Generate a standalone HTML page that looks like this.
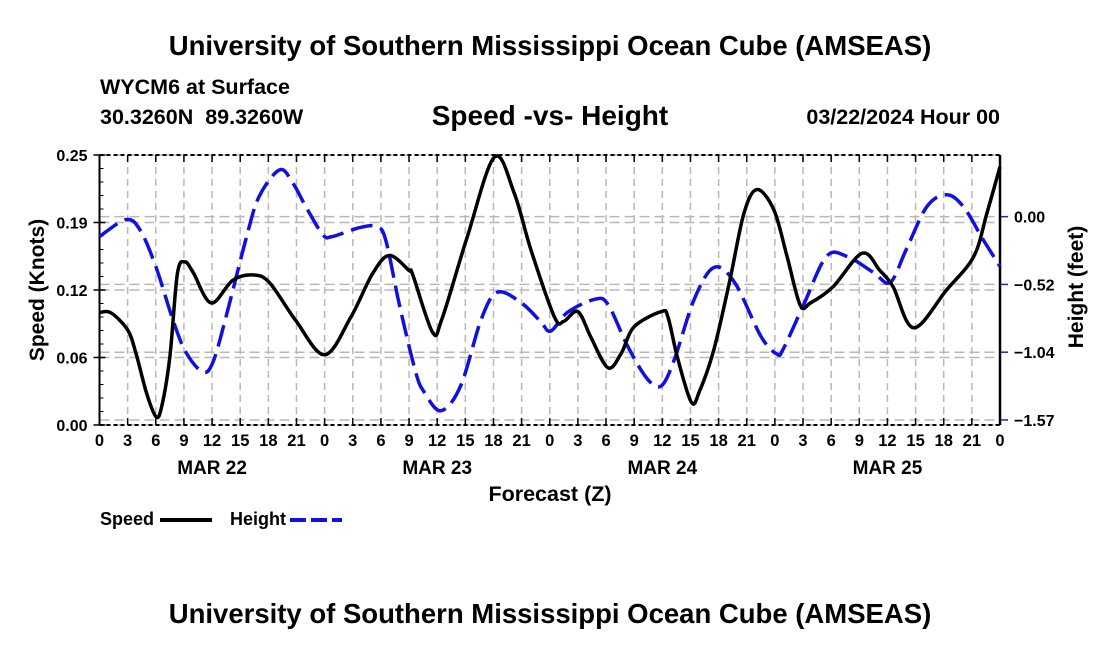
<!DOCTYPE html>
<html><head><meta charset="utf-8"><style>
body{margin:0;background:#fff;}
svg text{font-family:"Liberation Sans",sans-serif;font-weight:bold;fill:#000;}
</style></head><body>
<svg id="chart" width="1100" height="650" viewBox="0 0 1100 650" xmlns="http://www.w3.org/2000/svg">
<rect width="1100" height="650" fill="#fff"/>
<text x="550" y="55" font-size="27.5" text-anchor="middle">University of Southern Mississippi Ocean Cube (AMSEAS)</text>
<text x="100" y="94" font-size="21.5">WYCM6 at Surface</text>
<text x="100" y="124" font-size="21.5" xml:space="preserve">30.3260N  89.3260W</text>
<text x="550" y="125" font-size="28" text-anchor="middle">Speed -vs- Height</text>
<text x="1000" y="124" font-size="21.5" text-anchor="end">03/22/2024 Hour 00</text>
<g id="grid"></g>
<g id="axes"></g>
<g id="series"></g>
<text transform="translate(44,290) rotate(-90)" font-size="21" text-anchor="middle">Speed (Knots)</text>
<text transform="translate(1083,287) rotate(-90)" font-size="21" text-anchor="middle">Height (feet)</text>
<text x="550" y="501" font-size="21.5" text-anchor="middle">Forecast (Z)</text>
<g>
<text x="100" y="525" font-size="18">Speed</text>
<line x1="160" y1="520" x2="212" y2="520" stroke="#000" stroke-width="4"/>
<text x="230" y="525" font-size="18">Height</text>
<line x1="290" y1="520" x2="342" y2="520" stroke="#1010e0" stroke-width="4" stroke-dasharray="16,5"/>
</g>
<text x="550" y="623" font-size="27.5" text-anchor="middle">University of Southern Mississippi Ocean Cube (AMSEAS)</text>
</svg>
<script>
const speedHours=[0,1.2,3,3.9,5,6,6.6,7.5,8.3,9.1,10,11.9,14.2,16.3,18.1,20.9,24,26.8,29.1,30.9,33,33.4,35.5,36.5,39.2,42.1,44.2,46,48.5,49.5,51,52.4,54.2,55.6,57,59.9,60.6,61.6,63.1,64,65.5,67.2,68.7,70.1,71.9,73.3,74.7,75.8,78.2,81.3,83.2,84.6,86.8,90.3,93.2,94.6,96];
const speedValues=[0.104,0.104,0.088,0.066,0.03,0.008,0.016,0.063,0.14,0.151,0.141,0.113,0.134,0.139,0.132,0.097,0.065,0.1,0.14,0.157,0.143,0.139,0.086,0.098,0.174,0.248,0.215,0.162,0.1,0.096,0.105,0.081,0.053,0.066,0.091,0.105,0.1,0.063,0.021,0.032,0.07,0.134,0.196,0.218,0.199,0.156,0.111,0.113,0.128,0.159,0.143,0.128,0.09,0.125,0.156,0.196,0.239];
const heightHours=[0,2.8,4.3,6,7.8,9.2,11,12.1,13.5,15.6,17,19.2,20.6,22,23.8,24.8,27.7,29.5,30.5,32,33.7,34.6,36.4,38.5,40.7,42.4,44.9,47,48.1,49.9,52.8,54.2,56.3,58.4,59.9,61.3,63.4,65.5,67.7,70.5,72.2,72.9,75,77.5,79.7,82.5,84.3,86,88.2,90.3,92.1,94.2,96];
const heightValues=[-0.154,-0.023,-0.1,-0.384,-0.791,-1.045,-1.198,-1.122,-0.77,-0.177,0.153,0.361,0.261,0.077,-0.138,-0.154,-0.085,-0.077,-0.177,-0.69,-1.198,-1.352,-1.498,-1.306,-0.791,-0.584,-0.661,-0.807,-0.883,-0.738,-0.638,-0.676,-0.999,-1.252,-1.306,-1.099,-0.638,-0.392,-0.507,-0.922,-1.06,-1.02,-0.691,-0.307,-0.307,-0.43,-0.507,-0.254,0.077,0.169,0.077,-0.177,-0.384];
const xTickLabels=["0","3","6","9","12","15","18","21","0","3","6","9","12","15","18","21","0","3","6","9","12","15","18","21","0","3","6","9","12","15","18","21","0"];
const dayLabels=["MAR 22","MAR 23","MAR 24","MAR 25"];
const yTicks=[0,0.0625,0.125,0.1875,0.25];
const yTickLabels=["0.00","0.06","0.12","0.19","0.25"];
const y2Ticks=[0,-0.523,-1.046,-1.569];
const y2TickLabels=["0.00","\u22120.52","\u22121.04","\u22121.57"];

const L=99.5,R=1000,T=155,B=425;
const x=t=>L+t/96*(R-L);
const y=v=>B-v/0.25*(B-T);
const H0=0.476,H1=-1.608;
const y2=h=>T+(H0-h)/(H0-H1)*(B-T);
const NS="http://www.w3.org/2000/svg";
function mk(tag,attrs,parent){const e=document.createElementNS(NS,tag);for(const k in attrs)e.setAttribute(k,attrs[k]);parent.appendChild(e);return e;}
const grid=document.getElementById('grid'),axes=document.getElementById('axes'),series=document.getElementById('series');
xTickLabels.forEach((lab,i)=>{const xx=x(i*3);
 if(i>0&&i<32){const g=mk('line',{x1:xx,y1:T,x2:xx,y2:B,stroke:'#b8b8b8','stroke-width':1.5,'stroke-dasharray':'7,5'},grid);
 
 }
 const tk=mk('line',{x1:xx,y1:B,x2:xx,y2:B-7,stroke:'#000','stroke-width':1.5},axes);
 
 
 const tk2=mk('line',{x1:xx,y1:T,x2:xx,y2:T+7,stroke:'#000','stroke-width':1.5},axes);
 
 
 const t=mk('text',{x:xx,y:B+21,'font-size':16.5,'text-anchor':'middle'},axes);t.textContent=lab;
 
 });
dayLabels.forEach((d,i)=>{const t=mk('text',{x:x(12+24*i),y:474,'font-size':19,'text-anchor':'middle'},axes);t.textContent=d;
 
 });
yTicks.forEach((v,i)=>{const yy=y(v);
 const g=mk('line',{x1:L,y1:yy,x2:R,y2:yy,stroke:'#b8b8b8','stroke-width':1.5,'stroke-dasharray':'10,5'},grid);
 
 
 const tk=mk('line',{x1:L-6,y1:yy,x2:L+6,y2:yy,stroke:'#000','stroke-width':1.5},axes);
 
 
 const t=mk('text',{x:L-12,y:yy+6,'font-size':16,'text-anchor':'end'},axes);t.textContent=yTickLabels[i];
 
 });
for(let v=0;v<=0.25;v+=0.0125){const m=mk('line',{x1:L,y1:y(v),x2:L+4,y2:y(v),stroke:'#000','stroke-width':1},axes);
 
 }
y2Ticks.forEach((h,i)=>{const yy=y2(h);
 const g=mk('line',{x1:L,y1:yy,x2:R,y2:yy,stroke:'#b8b8b8','stroke-width':1.5,'stroke-dasharray':'10,5'},grid);
 
 
 const tk=mk('line',{x1:R,y1:yy,x2:R+8,y2:yy,stroke:'#2020d0','stroke-width':1.5},axes);
 
 
 const t=mk('text',{x:1014,y:yy+6,'font-size':16},axes);t.textContent=y2TickLabels[i];
 
 });
const fl=mk('line',{x1:L,y1:T,x2:L,y2:B,stroke:'#000','stroke-width':2},axes);


const fr=mk('line',{x1:R,y1:T,x2:R,y2:B,stroke:'#000','stroke-width':2.5},axes);


const ft=mk('line',{x1:L,y1:T,x2:R,y2:T,stroke:'#000','stroke-width':2,'stroke-dasharray':'4,3'},axes);


const fb=mk('line',{x1:L,y1:B,x2:R,y2:B,stroke:'#000','stroke-width':2,'stroke-dasharray':'4,3'},axes);


function smooth(pts){let d='M'+pts[0][0]+','+pts[0][1];
 for(let i=0;i<pts.length-1;i++){const p0=pts[Math.max(0,i-1)],p1=pts[i],p2=pts[i+1],p3=pts[Math.min(pts.length-1,i+2)];
 const c1=[p1[0]+(p2[0]-p0[0])/6,p1[1]+(p2[1]-p0[1])/6],c2=[p2[0]-(p3[0]-p1[0])/6,p2[1]-(p3[1]-p1[1])/6];
 d+=' C'+c1[0]+','+c1[1]+' '+c2[0]+','+c2[1]+' '+p2[0]+','+p2[1];}return d;}
const hp=mk('path',{d:smooth(heightHours.map((t,i)=>[x(t),y2(heightValues[i])])),fill:'none',stroke:'#1010e0','stroke-width':3.5,'stroke-dasharray':'22,8'},series);


const sp=mk('path',{d:smooth(speedHours.map((t,i)=>[x(t),y(speedValues[i])])),fill:'none',stroke:'#000','stroke-width':3.5},series);


</script>
</body></html>
